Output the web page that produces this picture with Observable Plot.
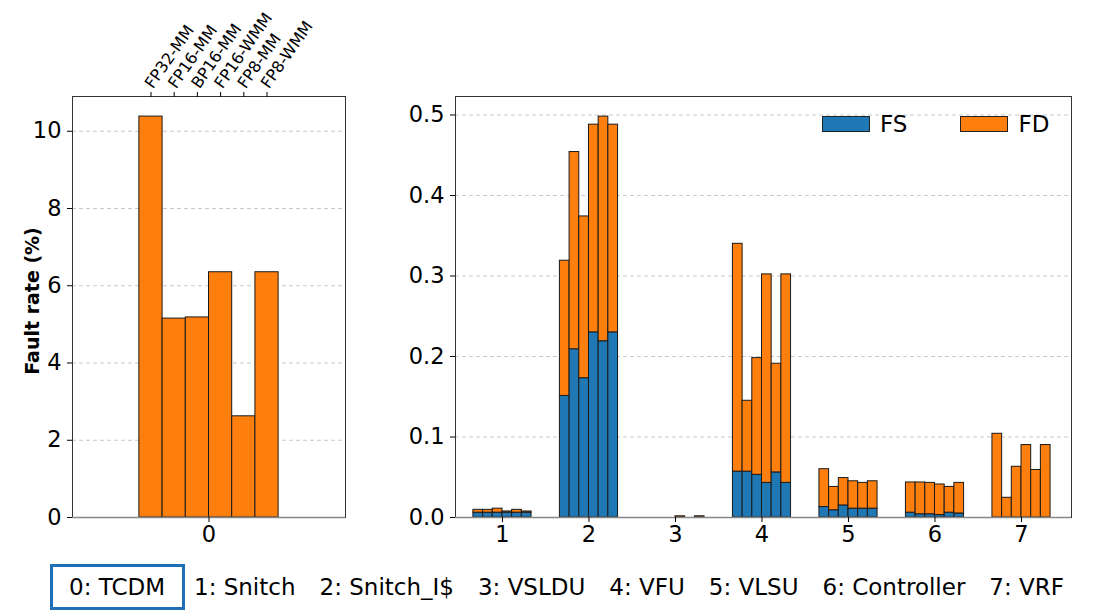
<!DOCTYPE html>
<html>
<head>
<meta charset="utf-8">
<script src="https://cdn.jsdelivr.net/npm/d3@7"></script>
<script src="https://cdn.jsdelivr.net/npm/@observablehq/plot@0.6"></script>
<style>
  html, body { margin: 0; padding: 0; background: white; }
  #chart { position: relative; width: 1096px; height: 613px; font-family: "DejaVu Sans", sans-serif; overflow: hidden; }
  #chart > svg, #chart > div.abs { position: absolute; }
</style>
</head>
<body>
<div id="chart"></div>
<script>
// ---- data ----
const modes = ["FP32-MM", "FP16-MM", "BP16-MM", "FP16-WMM", "FP8-MM", "FP8-WMM"];
const tcdmRate = [10.38, 5.15, 5.18, 6.35, 2.62, 6.35];   // component 0 (TCDM), %
const groups = [1, 2, 3, 4, 5, 6, 7];
const componentNames = ["0: TCDM", "1: Snitch", "2: Snitch_I$", "3: VSLDU", "4: VFU", "5: VLSU", "6: Controller", "7: VRF"];
// FS part per component (rows: components 1..7, cols: modes)
const fsRate = [
  [0.006, 0.006, 0.006, 0.006, 0.006, 0.006],
  [0.151, 0.209, 0.173, 0.230, 0.219, 0.230],
  [0, 0, 0, 0, 0, 0],
  [0.057, 0.057, 0.053, 0.043, 0.056, 0.043],
  [0.013, 0.009, 0.015, 0.011, 0.011, 0.011],
  [0.006, 0.004, 0.004, 0.003, 0.006, 0.005],
  [0, 0, 0, 0, 0, 0]
];
// FD part per component
const fdRate = [
  [0.0035, 0.0035, 0.005, 0.0015, 0.0035, 0.0015],
  [0.168, 0.245, 0.201, 0.258, 0.279, 0.258],
  [0, 0, 0, 0.0015, 0, 0.0015],
  [0.283, 0.088, 0.145, 0.259, 0.135, 0.259],
  [0.047, 0.029, 0.034, 0.034, 0.032, 0.034],
  [0.0375, 0.0395, 0.039, 0.038, 0.032, 0.038],
  [0.104, 0.0245, 0.063, 0.090, 0.059, 0.090]
];
const leftTicks = [0, 2, 4, 6, 8, 10];
const rightTicks = [0, 0.1, 0.2, 0.3, 0.4, 0.5];
const seriesNames = ["FS", "FD"];
const seriesColors = ["#1f77b4", "#ff7f0e"];

// ---- layout helpers ----
const FONT = "DejaVu Sans, sans-serif";
const chart = document.getElementById("chart");
const leftW = 0.17;   // bar width (x units) left panel
const rightW = 0.112; // bar width (x units) right panel
const leftCenter = i => (i - 2.5) * leftW;
const rightCenter = (g, i) => g + (i - 2.5) * rightW;

const tcdmRows = tcdmRate.map((v, i) => ({mode: modes[i], x1: leftCenter(i) - leftW / 2, x2: leftCenter(i) + leftW / 2, value: v}));
const stackRows = [];
groups.forEach((g, gi) => {
  modes.forEach((m, i) => {
    const fs = fsRate[gi][i], fd = fdRate[gi][i];
    const x1 = rightCenter(g, i) - rightW / 2, x2 = rightCenter(g, i) + rightW / 2;
    stackRows.push({g, mode: m, series: "FS", x1, x2, y1: 0, y2: fs});
    stackRows.push({g, mode: m, series: "FD", x1, x2, y1: fs, y2: fs + fd});
  });
});

const grid = ticks => Plot.gridY(ticks, {stroke: "#c8c8c8", strokeOpacity: 1, strokeDasharray: "4,3", strokeWidth: 1});
const TICKFONT = 22.5;

const left = Plot.plot({
  width: 360, height: 560,
  marginLeft: 72, marginRight: 15, marginTop: 96, marginBottom: 43,
  style: {fontFamily: FONT, fontSize: TICKFONT + "px", color: "#000", background: "white", overflow: "visible"},
  x: {domain: [-1, 1]},
  y: {domain: [0, 10.9]},
  marks: [
    grid(leftTicks.slice(1)),
    Plot.rect(tcdmRows, {x1: "x1", x2: "x2", y1: 0, y2: "value", fill: seriesColors[1], stroke: "#1a1a1a", strokeWidth: 1}),
    Plot.frame({stroke: "#333"}),
    Plot.ruleY([0], {stroke: "#888", strokeWidth: 1.6}),
    Plot.axisY(leftTicks, {tickSize: 5, tickPadding: 6, label: null, fontSize: TICKFONT}),
    Plot.axisX([0], {tickSize: 5, tickPadding: 4, label: null, tickFormat: d => String(d), fontSize: TICKFONT}),
    Plot.axisX(modes.map((m, i) => leftCenter(i)), {anchor: "top", tickSize: 5, tickFormat: () => "", label: null}),
    Plot.text(modes, {x: (d, i) => leftCenter(i), frameAnchor: "top", rotate: -55, textAnchor: "start", lineAnchor: "bottom", dy: -7, dx: 2, fontSize: 16}),
    Plot.text(["Fault rate (%)"], {frameAnchor: "left", textAnchor: "middle", dx: -40, dy: -6, rotate: -90, fontWeight: "bold", fontSize: 19})
  ]
});
left.style.left = "0px"; left.style.top = "0px";
chart.appendChild(left);

const right = Plot.plot({
  width: 736, height: 560,
  marginLeft: 95, marginRight: 25, marginTop: 96, marginBottom: 43,
  style: {fontFamily: FONT, fontSize: TICKFONT + "px", color: "#000", background: "white", overflow: "visible"},
  x: {domain: [0.457, 7.578]},
  y: {domain: [0, 0.523]},
  color: {domain: seriesNames, range: seriesColors},
  marks: [
    grid(rightTicks.slice(1)),
    Plot.rect(stackRows, {x1: "x1", x2: "x2", y1: "y1", y2: "y2", fill: "series", stroke: "#1a1a1a", strokeWidth: 1}),
    Plot.frame({stroke: "#333"}),
    Plot.ruleY([0], {stroke: "#888", strokeWidth: 1.6}),
    Plot.axisY(rightTicks, {tickSize: 5, tickPadding: 6, label: null, tickFormat: d3.format(".1f"), fontSize: TICKFONT}),
    Plot.axisX(groups, {tickSize: 5, tickPadding: 4, label: null, tickFormat: d => String(d), fontSize: TICKFONT})
  ]
});
right.style.left = "360px"; right.style.top = "0px";
chart.appendChild(right);

// ---- legend (inside right panel) ----
const legend = document.createElement("div");
legend.className = "abs";
legend.style.cssText = "left:822px; top:111px; display:flex; align-items:center; font-size:23px;";
seriesNames.forEach((s, i) => {
  const sw = document.createElement("span");
  sw.style.cssText = `display:inline-block; width:48px; height:16px; background:${seriesColors[i]}; box-sizing:border-box; border:0.8px solid #222;`;
  const t = document.createElement("span");
  t.textContent = s;
  t.style.cssText = `margin-left:10px; margin-right:${i === 0 ? 53 : 0}px; line-height:26px;`;
  legend.appendChild(sw); legend.appendChild(t);
});
chart.appendChild(legend);

// ---- component caption below ----
const cap = document.createElement("div");
cap.className = "abs";
cap.style.cssText = "left:50px; top:564px; height:46px; display:flex; align-items:center; font-size:23px; white-space:pre;";
componentNames.forEach((name, i) => {
  const s = document.createElement("span");
  s.textContent = name;
  if (i === 0) {
    s.style.cssText = "box-sizing:border-box; height:46px; width:135px; border:3px solid #1f6fb6; display:flex; align-items:center; padding-left:16px; margin-right:9px;";
  } else {
    s.style.cssText = "margin-right:24px;";
  }
  cap.appendChild(s);
});
chart.appendChild(cap);
</script>
</body>
</html>
